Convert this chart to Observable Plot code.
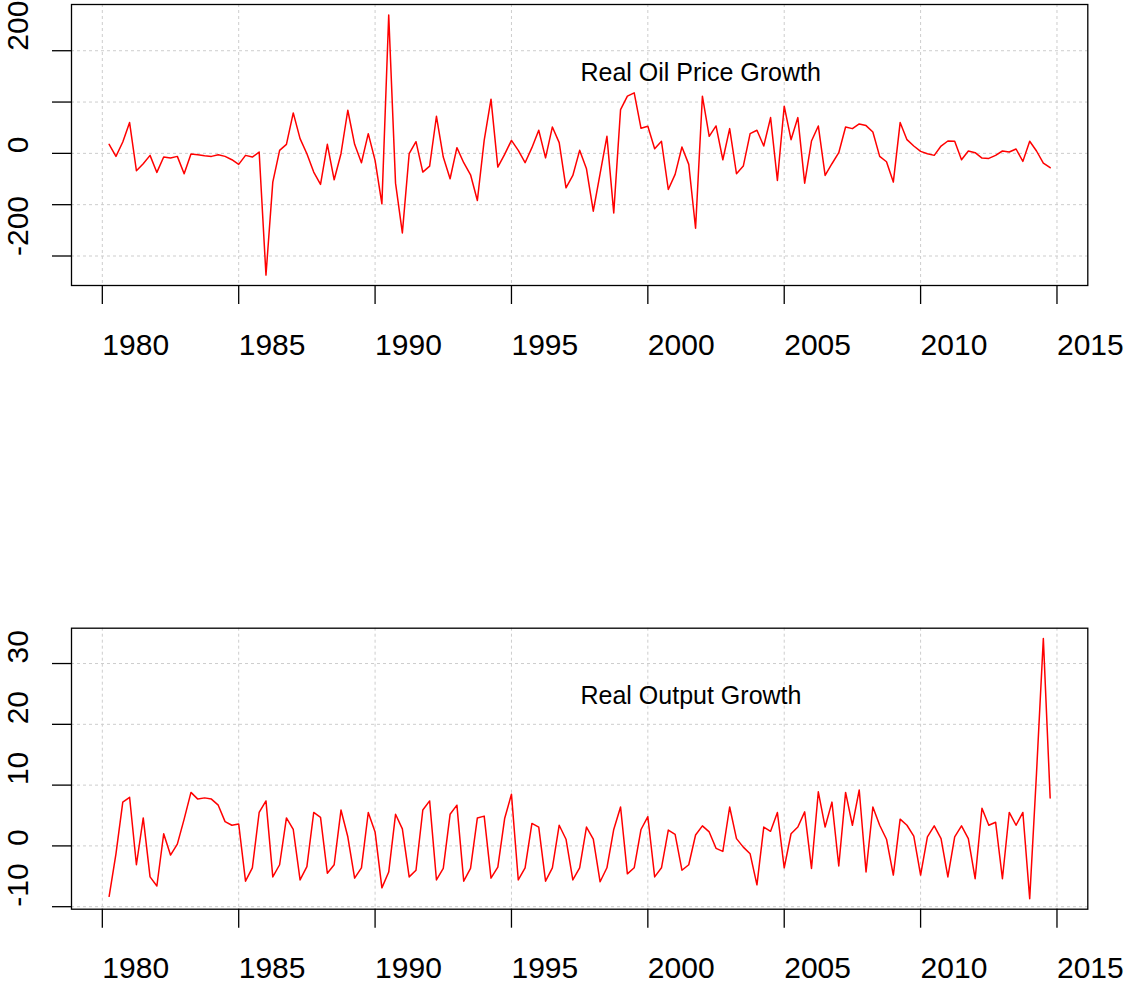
<!DOCTYPE html>
<html>
<head>
<meta charset="utf-8">
<script src="https://cdn.jsdelivr.net/npm/d3@7"></script>
<script src="https://cdn.jsdelivr.net/npm/@observablehq/plot@0.6"></script>
<style>
  html, body { margin: 0; padding: 0; background: #ffffff; }
  #chart svg { display: block; }
</style>
</head>
<body>
<div id="chart"></div>
<script>
// Quarterly series, first observation 1980 Q2 (1980.25), step one quarter
const startYear = 1980.25;
const stepYears = 0.25;

const oilGrowth = [
  17.6, -5.9, 22.2, 60.0, -33.9, -20.2, -3.9, -37.1, -7.2, -9.1,
  -5.9, -39.7, -1.3, -2.6, -4.6, -5.9, -2.6, -5.9, -12.4, -21.5,
  -3.9, -7.2, 2.6, -237.2, -56.0, 5.9, 17.6, 78.8, 28.7,
  -0.7, -36.5, -60.6, 17.6, -51.5, -0.7, 84.0, 17.6, -18.2, 38.4,
  -13.7, -98.4, 269.8, -58.0, -155.0, -0.7, 22.8, -36.5, -24.8, 72.3,
  -7.2, -49.5, 11.1, -18.2, -41.7, -91.9, 25.4, 105.6, -26.7, -2.0,
  25.4, 5.9, -18.2, 11.1, 45.0, -8.8, 51.5, 21.0,
  -67.1, -43.0, 5.9, -30.0, -112.7, -39.7, 33.2, -116.0, 85.4, 111.4,
  118.0, 48.9, 52.8, 9.1, 23.5, -70.4, -41.0, 12.4, -21.5, -146.0,
  111.4, 33.2, 53.4, -12.4, 48.2, -39.7, -24.8, 38.4, 45.0, 14.3,
  69.7, -52.8, 91.9, 26.7, 69.7, -58.0,
  24.1, 53.4, -43.0, -20.2, 1.3, 51.5, 48.2, 57.3, 54.1, 41.7,
  -5.9, -16.3, -56.0, 60.0, 26.7, 14.3, 3.9, -0.7, -3.9, 14.3,
  24.1, 23.5, -12.4, 4.6, 1.3, -9.1, -9.8, -3.9, 4.6, 2.6,
  8.5, -15.6, 23.5, 4.6, -18.9, -28.0
];

const outputGrowth = [
  -8.3, -1.3, 7.2, 8.0, -3.1, 4.6, -5.1, -6.6, 2.0, -1.5,
  0.3, 4.4, 8.8, 7.7, 7.9, 7.7, 6.7, 4.0, 3.4, 3.6,
  -5.8, -3.6, 5.5, 7.4, -5.1, -3.1, 4.6,
  2.7, -5.6, -3.4, 5.5, 4.7, -4.5, -3.1, 5.9, 1.5, -5.3,
  -3.6, 5.5, 2.3, -6.9, -4.3, 5.2, 2.8, -5.1, -4.0, 5.9,
  7.4, -5.6, -3.7, 5.2, 6.7, -5.8, -3.7, 4.6, 4.9, -5.3,
  -3.5, 4.5, 8.5, -5.6, -3.6, 3.7, 3.1, -5.8, -3.6,
  3.4, 1.1, -5.6, -3.6, 3.1, 1.1, -5.9, -3.6, 2.7, 6.4,
  -4.6, -3.6, 2.7, 4.8, -5.1, -3.6, 2.6, 1.9, -4.0, -3.1,
  1.8, 3.3, 2.3, -0.4, -0.9, 6.4, 1.2, -0.2, -1.3, -6.4,
  3.1, 2.4, 5.5, -3.6, 2.0, 3.1, 5.6,
  -3.7, 8.9, 3.1, 7.2, -3.3, 8.8, 3.4, 9.2, -4.3, 6.4,
  3.4, 1.1, -4.8, 4.4, 3.4, 1.6, -4.8, 1.5, 3.3, 1.2,
  -5.1, 1.5, 3.3, 1.2, -5.4, 6.2, 3.4, 3.9, -5.4, 5.5,
  3.4, 5.5, -8.7, 12.0, 34.1, 7.9
];

const xTicks = [1980, 1985, 1990, 1995, 2000, 2005, 2010, 2015];
const oilTicks = [-200, -100, 0, 100, 200];
const oilTickLabels = [200, 0, -200];
const outputTicks = [-10, 0, 10, 20, 30];
const outputTickLabels = [30, 20, 10, 0, -10];
const titles = ["Real Oil Price Growth", "Real Output Growth"];

// R-style axis range: data extent padded by 4% on each side
function rRange([a, b]) { const p = (b - a) * 0.04; return [a - p, b + p]; }

const FONT = "'Liberation Sans', Arial, Helvetica, sans-serif";

function panel({values, ticks, tickLabels, title, marginTop, marginBottom}) {
  const data = values.map((v, i) => ({t: startYear + i * stepYears, v}));
  return Plot.plot({
    width: 1127,
    height: 493,
    marginLeft: 71,
    marginRight: 39.7,
    marginTop,
    marginBottom,
    style: {fontFamily: FONT, background: "#ffffff", color: "#000000", overflow: "visible"},
    x: {domain: rRange(d3.extent(data, d => d.t))},
    y: {domain: rRange(d3.extent(values))},
    marks: [
      Plot.ruleX(xTicks, {x: d => d, stroke: "#cdcdcd", strokeWidth: 1, strokeDasharray: "3,3"}),
      Plot.ruleY(ticks, {y: d => d, stroke: "#cdcdcd", strokeWidth: 1, strokeDasharray: "3,3"}),
      Plot.line(data, {x: "t", y: "v", stroke: "#ff0000", strokeWidth: 1.5}),
      Plot.frame({stroke: "#000000", strokeWidth: 1.3}),
      Plot.axisX({ticks: xTicks, tickSize: 19, tickFormat: () => "", label: null, strokeWidth: 1.3}),
      Plot.axisY({ticks: ticks, tickSize: 19, tickFormat: () => "", label: null, strokeWidth: 1.3}),
      Plot.text(xTicks, {
        x: d => d, text: d => String(d), frameAnchor: "bottom", dy: 69,
        textAnchor: "start", lineAnchor: "bottom", fontSize: 30, fill: "#000000"
      }),
      Plot.text(tickLabels, {
        y: d => d, text: d => String(d), frameAnchor: "left", dx: -43.5, rotate: -90,
        textAnchor: "start", lineAnchor: "bottom", fontSize: 30, fill: "#000000"
      }),
      Plot.text([title], {
        text: d => d, frameAnchor: "top-left", dx: 509, dy: 58.3,
        textAnchor: "start", lineAnchor: "top", fontSize: 25, fill: "#000000"
      })
    ]
  });
}

const chart = document.getElementById("chart");
chart.appendChild(panel({
  values: oilGrowth, ticks: oilTicks, tickLabels: oilTickLabels, title: titles[0],
  marginTop: 4, marginBottom: 208
}));
chart.appendChild(panel({
  values: outputGrowth, ticks: outputTicks, tickLabels: outputTickLabels, title: titles[1],
  marginTop: 134.7, marginBottom: 77.3
}));
</script>
</body>
</html>
